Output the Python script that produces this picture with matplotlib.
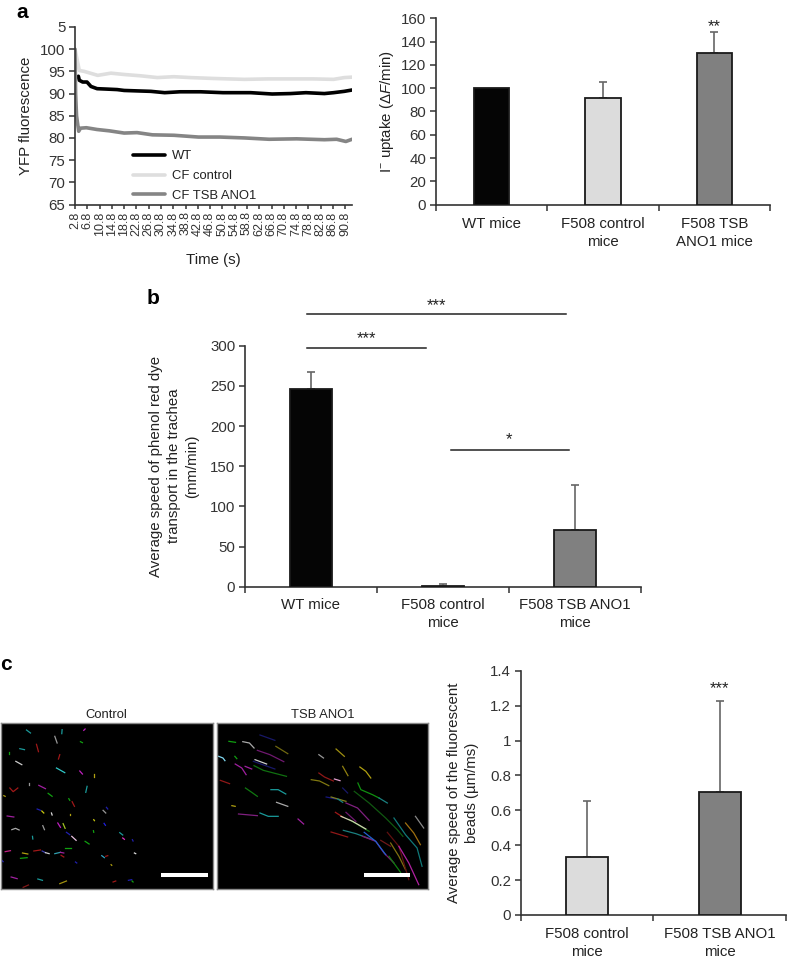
import matplotlib
matplotlib.use("Agg")
import matplotlib.pyplot as plt

plt.rcParams['font.family'] = ['Liberation Sans', 'DejaVu Sans']
plt.rcParams['mathtext.fontset'] = 'custom'
plt.rcParams['mathtext.rm'] = 'Liberation Sans'
plt.rcParams['mathtext.it'] = 'Liberation Sans:italic'
plt.rcParams['text.color'] = '#222222'
plt.rcParams['axes.labelcolor'] = '#222222'
plt.rcParams['xtick.labelcolor'] = '#222222'
plt.rcParams['ytick.labelcolor'] = '#222222'

W, H = 787, 960
FS = 10.8
AXC = '#333333'
BLACK, LIGHT, DARK = '#050505', '#dcdcdc', '#808080'

# panel a, time course
wt_t = [3.9, 4.2, 5.3, 6.7, 8, 10, 13.4, 16.5, 18.8, 23, 27.5, 32, 37, 43.7, 51, 60, 67, 73, 78, 84, 87, 90.5, 93]
wt_y = [93.9, 93, 92.6, 92.6, 91.6, 91.1, 91, 90.9, 90.7, 90.6, 90.5, 90.2, 90.4, 90.4, 90.2, 90.2, 89.9, 90, 90.2, 90, 90.2, 90.5, 90.8]
ctrl_t = [2.8, 4.2, 5.8, 10.2, 14.5, 18.8, 24.2, 29.6, 35, 40.4, 48, 58, 65.5, 72, 80.5, 87, 90.5, 93]
ctrl_y = [100, 95.2, 95, 94.1, 94.6, 94.3, 94, 93.6, 93.8, 93.6, 93.4, 93.2, 93.3, 93.3, 93.3, 93.2, 93.6, 93.7]
tsb_t = [2.8, 3.0, 3.3, 4.0, 4.6, 6.5, 10, 14, 18.8, 23, 28, 35, 43, 50, 58, 66, 75, 84, 88, 91, 93]
tsb_y = [100, 90, 85, 81.5, 82.2, 82.3, 81.9, 81.6, 81.1, 81.2, 80.7, 80.6, 80.2, 80.2, 80, 79.7, 79.8, 79.6, 79.7, 79.2, 79.7]
time_ticks = [2.8, 6.8, 10.8, 14.8, 18.8, 22.8, 26.8, 30.8, 34.8, 38.8, 42.8, 46.8, 50.8, 54.8, 58.8, 62.8, 66.8, 70.8, 74.8, 78.8, 82.8, 86.8, 90.8]
yfp_ticks = [65, 70, 75, 80, 85, 90, 95, 100, 105]
yfp_labels = ['65', '70', '75', '80', '85', '90', '95', '100', '5']

# bar panels
uptake_labels = ['WT mice', 'F508 control\nmice', 'F508 TSB\nANO1 mice']
uptake_vals = [100, 92, 130]
uptake_tops = [100, 105, 148]
dye_labels = ['WT mice', 'F508 control\nmice', 'F508 TSB ANO1\nmice']
dye_vals = [246, 1, 70]
dye_tops = [267, 3, 127]
bead_labels = ['F508 control\nmice', 'F508 TSB ANO1\nmice']
bead_vals = [0.335, 0.705]
bead_tops = [0.655, 1.225]

# bead tracks
control_tracks = [
    ('#1a9a9a', [78, 90], [241, 250]), ('#1a9a9a', [185, 184], [240, 252]), ('#c020c0', [250, 254], [242, 238]),
    ('#999999', [163, 170], [260, 280]), ('#10a010', [240, 246], [276, 279]), ('#a01818', [108, 114], [284, 306]),
    ('#1a9a9a', [58, 72], [297, 300]), ('#10a010', [26, 26], [308, 313]), ('#a01818', [178, 174], [315, 328]),
    ('#cccccc', [46, 64], [335, 345]), ('#30c8c8', [168, 193], [355, 369]), ('#c020c0', [238, 246], [364, 373]),
    ('#b0a010', [280, 280], [373, 381]), ('#999999', [86, 86], [400, 405]), ('#a020a0', [115, 135], [407, 417]),
    ('#1a9a9a', [260, 256], [410, 428]), ('#a01818', [28, 38, 52], [415, 426, 415]), ('#10a010', [143, 155], [431, 440]),
    ('#b0a010', [10, 14], [438, 440]), ('#10a010', [205, 208], [447, 452]), ('#a01818', [215, 222], [456, 470]),
    ('#2020b0', [110, 120], [478, 482]), ('#c8c810', [124, 130], [484, 490]), ('#dddddd', [153, 155], [490, 496]),
    ('#b0a010', [208, 208], [493, 497]), ('#2020b0', [318, 322], [473, 478]), ('#999999', [308, 316], [482, 490]),
    ('#a020a0', [20, 40], [499, 502]), ('#c020c0', [172, 180], [520, 533]), ('#a0c020', [188, 194], [522, 536]),
    ('#c8c810', [280, 282], [510, 513]), ('#2020e0', [311, 315], [521, 527]), ('#999999', [127, 132], [528, 540]),
    ('#aaaaaa', [34, 45, 56], [540, 536, 541]), ('#10a010', [279, 280], [543, 548]), ('#2020b0', [198, 208], [548, 555]),
    ('#e8c0e0', [214, 227], [560, 572]), ('#1a9a9a', [358, 367], [549, 556]), ('#e030c0', [367, 372], [565, 569]),
    ('#1a9a9a', [96, 97], [560, 568]), ('#2020b0', [396, 398], [570, 574]), ('#10a010', [254, 266], [575, 583]),
    ('#c02080', [14, 30], [606, 603]), ('#a01818', [100, 120], [604, 601]), ('#4040b0', [125, 135], [604, 609]),
    ('#cccccc', [135, 146], [609, 612]), ('#b0a010', [66, 82], [610, 613]), ('#10a010', [60, 80], [626, 624]),
    ('#10a010', [193, 212], [596, 596]), ('#30a0b0', [163, 180], [612, 608]), ('#a020a0', [180, 190], [608, 610]),
    ('#a01818', [182, 190], [617, 622]), ('#dddddd', [402, 406], [610, 612]), ('#30a0c0', [304, 312], [618, 624]),
    ('#a01818', [316, 322], [620, 618]), ('#2020b0', [225, 229], [637, 640]), ('#b0a010', [332, 334], [645, 647]),
    ('#2020b0', [4, 8], [632, 636]), ('#a020a0', [32, 50], [682, 687]), ('#1a9a9a', [112, 126], [688, 692]),
    ('#a09010', [178, 198], [702, 694]), ('#801818', [68, 84], [713, 706]), ('#a01818', [338, 346], [697, 694]),
    ('#2020b0', [384, 394], [692, 690]), ('#10a010', [395, 398], [694, 697]),
]
tsb_tracks = [
    ('#10a010', [56, 76], [95, 98]), ('#aaaaaa', [98, 118, 132], [96, 100, 115]), ('#181868', [150, 195], [76, 92]),
    ('#706810', [198, 234], [110, 132]), ('#701870', [142, 180, 222], [122, 135, 156]), ('#80d8f0', [25, 38, 44], [140, 145, 153]),
    ('#10a010', [74, 80], [140, 147]), ('#cccccc', [135, 170], [150, 163]), ('#181868', [130, 195], [155, 178]),
    ('#107010', [132, 160, 230], [168, 182, 200]), ('#a020a0', [75, 95, 108], [163, 175, 195]), ('#a020a0', [105, 125], [170, 178]),
    ('#901818', [30, 58], [212, 222]), ('#999999', [328, 342], [135, 145]), ('#a09010', [380, 405], [118, 140]),
    ('#908010', [400, 416], [170, 198]), ('#b0a010', [452, 470, 485], [172, 185, 205]), ('#901818', [328, 345, 372], [190, 202, 214]),
    ('#807810', [305, 330, 358], [210, 214, 228]), ('#e0a0d0', [375, 392], [208, 213]), ('#107810', [106, 125, 142], [235, 248, 260]),
    ('#1a9a9a', [183, 205, 228], [240, 240, 253]), ('#181868', [400, 415], [235, 250]), ('#109010', [446, 455, 490, 510], [220, 240, 255, 265]),
    ('#1a8080', [510, 535], [265, 280]), ('#105810', [435, 480, 530, 565, 582], [245, 280, 325, 360, 380]),
    ('#107878', [555, 590, 625, 640], [325, 375, 415, 470]), ('#888888', [620, 645], [320, 355]), ('#a07010', [590, 615, 635], [340, 370, 405]),
    ('#181880', [350, 380], [262, 268]), ('#808020', [365, 410], [262, 275]), ('#1a8080', [385, 400], [268, 278]),
    ('#802080', [410, 445, 480], [280, 295, 332]), ('#aaaaaa', [200, 234], [278, 290]), ('#b0a010', [65, 75], [288, 290]),
    ('#802080', [85, 142], [313, 318]), ('#1a9a9a', [150, 175, 205], [310, 320, 320]), ('#a020a0', [265, 282], [328, 343]),
    ('#a01818', [378, 400], [308, 322]), ('#701870', [410, 440], [308, 335]), ('#107010', [420, 480], [330, 365]),
    ('#d0d0b0', [395, 430, 470], [320, 335, 358]), ('#1a8080', [402, 440, 490], [362, 372, 390]), ('#901818', [365, 415], [367, 382]),
    ('#801870', [460, 500, 525, 555], [380, 395, 430, 460]), ('#2060d0', [465, 500, 530], [368, 395, 435]), ('#701818', [515, 545], [392, 410]),
    ('#807010', [545, 570, 590], [400, 440, 480]), ('#601010', [535, 570, 600], [368, 410, 510]), ('#b020a0', [570, 600, 630], [410, 460, 525]),
    ('#108010', [540, 575], [440, 488]),
]


def add_axes(left, right, top, bottom):
    return fig.add_axes([left / W, 1 - bottom / H, (right - left) / W, (bottom - top) / H])


def clean(ax):
    for side in ['top', 'right']:
        ax.spines[side].set_visible(False)
    for side in ['left', 'bottom']:
        ax.spines[side].set_color(AXC)
        ax.spines[side].set_linewidth(1.2)
    ax.tick_params(colors=AXC, width=1.1, length=4, labelsize=FS, pad=3)


def bars(ax, labels, vals, tops, colors):
    xs = [i + 0.5 for i in range(len(vals))]
    ax.bar(xs, vals, width=0.315, color=colors, edgecolor='#1a1a1a', linewidth=1.3, zorder=3)
    for x, v, t in zip(xs, vals, tops):
        if t > v:
            ax.errorbar(x, v, yerr=[[0], [t - v]], color='#666666', elinewidth=1.2, capsize=2.8, capthick=1.2, zorder=2)
    ax.set_xlim(0, len(vals))
    ax.set_xticks(range(len(vals) + 1))
    ax.set_xticklabels([])
    ax.set_xticks(xs, labels, minor=True)
    for lab in ax.get_xticklabels(minor=True):
        lab.set_linespacing(1.34)


fig = plt.figure(figsize=(W / 100, H / 100), dpi=100)

# a, left
ax = add_axes(75, 352, 27, 204.5)
ax.plot(wt_t, wt_y, color='black', lw=2.6, label='WT', solid_capstyle='round')
ax.plot(ctrl_t, ctrl_y, color='#dedede', lw=2.6, label='CF control', solid_capstyle='round')
ax.plot(tsb_t, tsb_y, color='#858585', lw=2.6, label='CF TSB ANO1', solid_capstyle='round')
ax.set_xlim(2.8, 93)
ax.set_ylim(65, 105)
ax.set_yticks(yfp_ticks, yfp_labels)
ax.set_xticks(time_ticks, [str(t) for t in time_ticks], rotation=90)
clean(ax)
ax.tick_params(axis='x', labelsize=9, length=3, pad=2)
ax.set_ylabel('YFP fluorescence', fontsize=FS)
ax.yaxis.set_label_coords((33 - 75) / 277, 0.5)
fig.text(213 / W, 1 - 260 / H, 'Time (s)', fontsize=FS, ha='center', va='center')
ax.legend(loc='lower left', bbox_to_anchor=(0.21, 0.015), frameon=False, fontsize=9.4, handlelength=2.4,
          labelspacing=0.58, handletextpad=0.55, borderpad=0, borderaxespad=0)

# a, right
ax = add_axes(436, 770, 18.3, 204.7)
bars(ax, uptake_labels, uptake_vals, uptake_tops, [BLACK, LIGHT, DARK])
ax.set_ylim(0, 160)
ax.set_yticks(range(0, 161, 20))
clean(ax)
ax.tick_params(axis='x', which='minor', length=0, pad=9, labelsize=FS)
ax.set_ylabel(r'I$^{-}$ uptake ($\Delta$$\mathit{F}$/min)', fontsize=FS)
ax.yaxis.set_label_coords((396 - 436) / 334, 0.5)
ax.text(2.5, 153, '**', ha='center', va='center', fontsize=12)

# b
ax = add_axes(245, 640.7, 345.7, 586.7)
bars(ax, dye_labels, dye_vals, dye_tops, [BLACK, LIGHT, DARK])
ax.set_ylim(0, 300)
ax.set_yticks(range(0, 301, 50))
clean(ax)
ax.tick_params(axis='x', which='minor', length=0, pad=8, labelsize=FS)
ax.set_ylabel('Average speed of phenol red dye\ntransport in the trachea\n(mm/min)', fontsize=FS, linespacing=1.36)
ax.yaxis.set_label_coords((199 - 245) / 395.7, 0.5)
for x0, x1, y, stars, sx, sy in [(0.47, 2.43, 339, '***', 1.45, 350), (0.47, 1.37, 297, '***', 0.92, 309), (1.56, 2.46, 170, '*', 2.0, 183)]:
    ax.plot([x0, x1], [y, y], color='#222222', lw=1.1, clip_on=False)
    ax.text(sx, sy, stars, ha='center', va='center', fontsize=12, clip_on=False)

# c, micrographs
for left, right, title, tracks, bar_x, dx, dy in [(0.5, 213, 'Control', control_tracks, (482, 622), 0, 220),
                                                  (217, 428, 'TSB ANO1', tsb_tracks, (445, 585), 20, 40)]:
    ax = add_axes(left, right, 723, 889)
    ax.set_facecolor('black')
    ax.set_xlim(0, 638)
    ax.set_ylim(498, 0)
    ax.set_xticks([])
    ax.set_yticks([])
    for s in ax.spines.values():
        s.set_color('#8a8a8a')
        s.set_linewidth(1)
    for color, xs, ys in tracks:
        ax.plot([x - dx for x in xs], [y - dy for y in ys], color=color, lw=0.9)
    ax.plot(bar_x, [457, 457], color='white', lw=2.9, solid_capstyle='butt')
    ax.text(0.5, 1.05, title, transform=ax.transAxes, ha='center', va='center', fontsize=9.4)

# c, bars
ax = add_axes(520.7, 786, 670.7, 915)
bars(ax, bead_labels, bead_vals, bead_tops, [LIGHT, DARK])
ax.set_ylim(0, 1.4)
ax.set_yticks([0, 0.2, 0.4, 0.6, 0.8, 1, 1.2, 1.4], ['0', '0.2', '0.4', '0.6', '0.8', '1', '1.2', '1.4'])
clean(ax)
ax.tick_params(axis='x', which='minor', length=0, pad=9, labelsize=FS)
ax.set_ylabel('Average speed of the fluorescent\nbeads (µm/ms)', fontsize=FS, linespacing=1.36)
ax.yaxis.set_label_coords((479 - 520.7) / 265.3, 0.5)
ax.text(1.5, 1.3, '***', ha='center', va='center', fontsize=12)

for letter, x, y in [('a', 16, 13), ('b', 147, 298), ('c', 0, 665)]:
    fig.text(x / W, 1 - y / H, letter, fontsize=15, fontweight='bold', color='black', va='center', ha='left')

fig.savefig('out.png', dpi=100)
